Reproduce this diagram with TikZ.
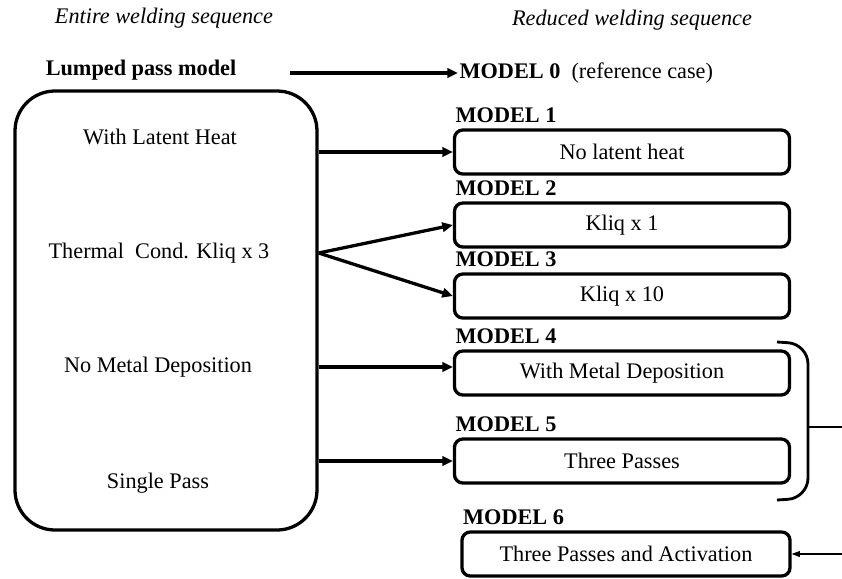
\documentclass[tikz,border=0pt]{standalone}
\usepackage{fontspec}
\setmainfont{Liberation Serif}
\usetikzlibrary{arrows.meta,positioning,fit}

\begin{document}
\begin{tikzpicture}[x=0.03cm,y=-0.03cm,line width=2.8pt,
  font=\fontsize{19}{22}\selectfont,
  mbox/.style={draw,rounded corners=0.25cm,minimum width=10.05cm,minimum height=1.32cm,inner sep=0},
  lbl/.style={font=\fontsize{19}{22}\selectfont\bfseries,inner sep=0},
  ttl/.style={font=\fontsize{19}{22}\selectfont\itshape},
  arr/.style={-{Triangle[length=9pt,width=8pt]}}]
\useasboundingbox (0,0) rectangle (842,578);
% headings
\node[ttl] (entire) at (164,18) {Entire welding sequence};
\node[ttl] (reduced) at (632,20) {Reduced welding sequence};
\node[lbl] (lumped) at (141,70) {Lumped pass model};
\node[anchor=west,inner sep=0] (m0) at (458,73) {\textbf{MODEL 0}\ \ (reference case)};
\coordinate (start0) at (290,73);
\draw[arr] (start0) -- (m0.west);
% entire sequence
\node[draw,rounded corners=1.2cm,fit={(15,91) (317,530)},inner sep=0] (seq) {};
\node (latent) at (160,137) {With Latent Heat};
\node (cond) at (159,253) {Thermal\ \ Cond. Kliq x 3};
\node (nometal) at (158,367) {No Metal Deposition};
\node (single) at (158,483) {Single Pass};
% reduced models
\node[mbox] (m1) at (622,152) {No latent heat};
\node[mbox] (m2) at (622,225) {Kliq x 1};
\node[mbox] (m3) at (622,296) {Kliq x 10};
\node[mbox] (m4) at (622,373) {With Metal Deposition};
\node[mbox] (m5) at (622,461) {Three Passes};
\node[mbox,minimum width=9.84cm] (m6) at (626,554) {Three Passes and Activation};
\foreach \i in {1,...,6}
  \node[lbl,above right=3pt and 1pt of m\i.north west] (l\i) {MODEL \i};
% connectors
\draw[arr] (seq.east |- m1.west) -- (m1.west);
\draw[arr] (seq.east |- cond) -- (m2.west);
\draw[arr] (seq.east |- cond) -- (m3.west);
\draw[arr] (seq.east |- nometal) -- (m4.west |- nometal);
\draw[arr] (seq.east |- m5.west) -- (m5.west);
% bracket
\draw[line width=2.4pt,rounded corners=0.6cm] (777,342) -- (808,344) -- (808,498) -- (777,500);
\coordinate (brk) at (808,427);
\coordinate (edge) at (842,427);
\draw[line width=0.9pt] (brk) -- (edge);
\coordinate (in6) at (842,554);
\draw[line width=0.9pt,-{Triangle[length=7pt,width=5pt]}] (in6) -- (m6.east);
\end{tikzpicture}
\end{document}
